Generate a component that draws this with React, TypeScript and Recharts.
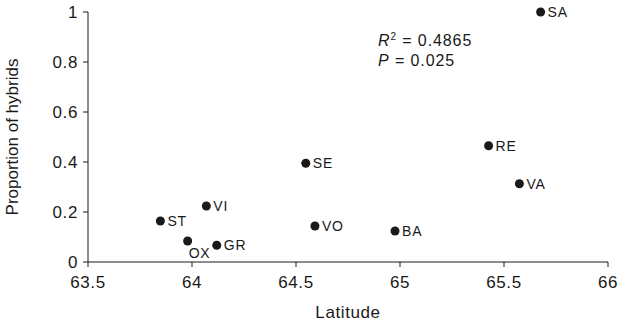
import { Scatter, ScatterChart, XAxis, YAxis, Label } from "recharts";

const sites = ["SA", "RE", "VA", "SE", "VO", "BA", "VI", "ST", "OX", "GR"];
const latitude = [65.676, 65.426, 65.574, 64.547, 64.591, 64.976, 64.069, 63.848, 63.979, 64.119];
const hybrids = [1.0, 0.465, 0.313, 0.395, 0.144, 0.124, 0.224, 0.164, 0.084, 0.067];
const xTicks = [63.5, 64, 64.5, 65, 65.5, 66];
const yTicks = [0, 0.2, 0.4, 0.6, 0.8, 1];

const data = sites.map((s, i) => ({ site: s, lat: latitude[i], p: hybrids[i] }));

const font = "Liberation Sans, Arial, sans-serif";
const ink = "#1a1a1a";

function Dot(props: any) {
  const { cx, cy, payload } = props;
  const below = payload.site === "OX";
  return (
    <g>
      <circle cx={cx} cy={cy} r={4.5} fill={ink} />
      <text
        x={below ? cx + 1 : cx + 7}
        y={below ? cy + 17 : cy + 5}
        fontSize={14}
        letterSpacing={0.8}
        fontFamily={font}
        fill={ink}
      >
        {payload.site}
      </text>
    </g>
  );
}

export default function App() {
  return (
    <div style={{ position: "absolute", left: 0, top: 0, width: 629, height: 324, background: "#fff" }}>
      <ScatterChart width={629} height={324} margin={{ top: 12, right: 21, bottom: 0, left: 0 }}>
        <XAxis
          type="number"
          dataKey="lat"
          domain={[63.5, 66]}
          ticks={xTicks}
          height={62}
          tickSize={5}
          tickMargin={9}
          stroke={ink}
          tick={{ fill: ink, fontSize: 17, fontFamily: font, letterSpacing: 0.6 }}
        >
          <Label
            value="Latitude"
            position="insideBottom"
            offset={6}
            fill={ink}
            fontSize={17}
            letterSpacing={0.6}
            fontFamily={font}
          />
        </XAxis>
        <YAxis
          type="number"
          dataKey="p"
          domain={[0, 1]}
          ticks={yTicks}
          width={88}
          tickSize={5}
          tickMargin={5}
          stroke={ink}
          tick={{ fill: ink, fontSize: 17, fontFamily: font, letterSpacing: 0.6 }}
        >
          <Label
            value="Proportion of hybrids"
            angle={-90}
            position="insideLeft"
            offset={12}
            style={{ textAnchor: "middle" }}
            fill={ink}
            fontSize={17}
            fontFamily={font}
          />
        </YAxis>
        <Scatter data={data} shape={<Dot />} isAnimationActive={false} />
      </ScatterChart>
      <div
        style={{
          position: "absolute",
          left: 378,
          top: 31,
          fontFamily: font,
          fontSize: 16,
          letterSpacing: 0.9,
          color: ink,
          lineHeight: "20px",
        }}
      >
        <div>
          <i>R</i>
          <sup style={{ fontSize: 10, lineHeight: 0 }}>2</sup> = 0.4865
        </div>
        <div>
          <i>P</i> = 0.025
        </div>
      </div>
    </div>
  );
}
